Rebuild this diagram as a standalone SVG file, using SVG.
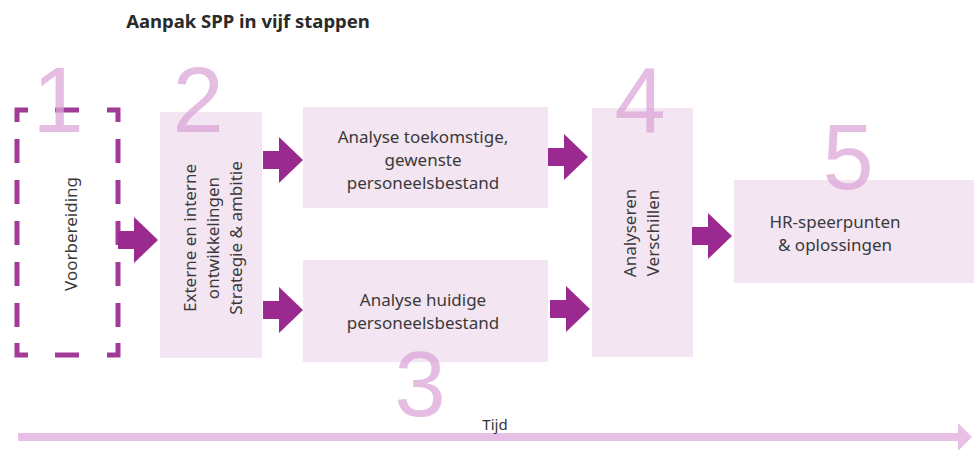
<svg xmlns="http://www.w3.org/2000/svg" width="974" height="450" viewBox="0 0 974 450">
<style>
.box{fill:#f3e5f1}
.t{font-family:"Noto Sans","Liberation Sans",sans-serif;font-size:17px;fill:#3a3a3a;text-anchor:middle}
.num{font-family:"Liberation Sans",sans-serif;font-size:92px;fill:#dda6d9;opacity:0.75;text-anchor:middle}
.dash{fill:none;stroke:#a23b97;stroke-width:5}
.arr{fill:#9a2a90}
</style>
<defs>
<path id="arrow" d="M0,-9 H16 V-23 L40,0 L16,23 V9 H0 Z"/>
</defs>
<rect width="974" height="450" fill="#ffffff"/>
<text x="248" y="28" font-family="'Noto Sans','Liberation Sans',sans-serif" font-size="18.5" font-weight="bold" fill="#2a2a2a" text-anchor="middle">Aanpak SPP in vijf stappen</text>

<g id="node1">
<path class="dash" d="M28,110 H17 V122 M17,139 V163 M17,180 V204 M17,221 V245 M17,262 V286 M17,303 V327 M17,343 V355 H28 M55,110 H79 M55,355 H79 M107,110 H118 V122 M118,139 V163 M118,180 V204 M118,221 V245 M118,262 V286 M118,303 V327 M118,343 V355 H107"/>
<text class="t" transform="translate(77,234) rotate(-90)">Voorbereiding</text>
</g>
<g id="node2">
<rect class="box" x="160" y="112" width="102" height="246"/>
<text class="t" transform="translate(196,238) rotate(-90)">Externe en interne</text>
<text class="t" transform="translate(219,238) rotate(-90)">ontwikkelingen</text>
<text class="t" transform="translate(242,238) rotate(-90)">Strategie &amp; ambitie</text>
</g>
<g id="node3a">
<rect class="box" x="303" y="107" width="245" height="101"/>
<text class="t" x="423" y="143">Analyse toekomstige,</text>
<text class="t" x="423" y="166">gewenste</text>
<text class="t" x="423" y="189">personeelsbestand</text>
</g>
<g id="node3b">
<rect class="box" x="303" y="260" width="245" height="102"/>
<text class="t" x="423" y="306">Analyse huidige</text>
<text class="t" x="423" y="329">personeelsbestand</text>
</g>
<g id="node4">
<rect class="box" x="592" y="108" width="101" height="249"/>
<text class="t" transform="translate(636,233) rotate(-90)">Analyseren</text>
<text class="t" transform="translate(659,233) rotate(-90)">Verschillen</text>
</g>
<g id="node5">
<rect class="box" x="734" y="180" width="240" height="103"/>
<text class="t" x="835" y="228">HR-speerpunten</text>
<text class="t" x="835" y="251">&amp; oplossingen</text>
</g>

<g id="connectors">
<use href="#arrow" class="arr" transform="translate(118,240)"/>
<use href="#arrow" class="arr" transform="translate(263,160)"/>
<use href="#arrow" class="arr" transform="translate(263,310)"/>
<use href="#arrow" class="arr" transform="translate(548,157)"/>
<use href="#arrow" class="arr" transform="translate(550,309)"/>
<use href="#arrow" class="arr" transform="translate(692,236)"/>
</g>

<g id="numbers">
<text class="num" x="58" y="132">1</text>
<text class="num" x="198" y="132">2</text>
<text class="num" x="420" y="416">3</text>
<text class="num" x="640" y="132">4</text>
<text class="num" x="848" y="189">5</text>
</g>

<g id="timeline">
<rect x="18" y="433" width="942" height="8" fill="#e8bfe5"/>
<path d="M958,423 L972,437 L958,451 Z" fill="#e8bfe5"/>
<text x="495" y="430" font-family="'Noto Sans','Liberation Sans',sans-serif" font-size="15" fill="#333" text-anchor="middle">Tijd</text>
</g>
</svg>
